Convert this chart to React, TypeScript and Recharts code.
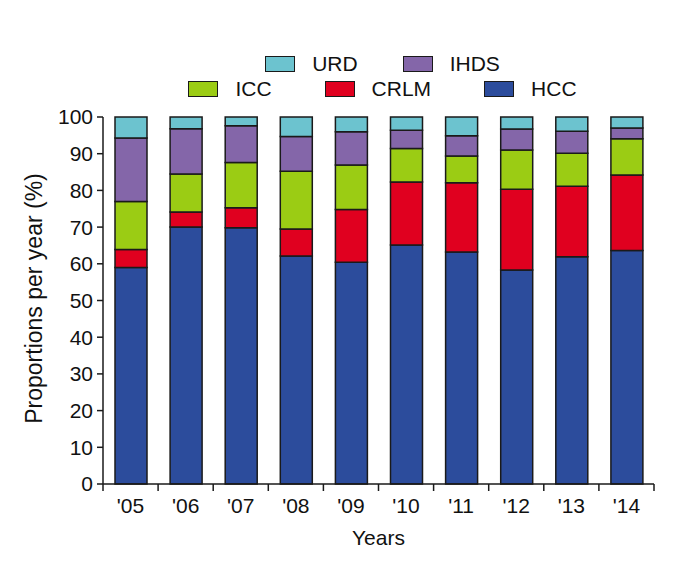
import { BarChart, Bar, XAxis, YAxis } from 'recharts';

const years = ["'05", "'06", "'07", "'08", "'09", "'10", "'11", "'12", "'13", "'14"];
const hcc = [59.0, 70.0, 69.8, 62.1, 60.4, 65.1, 63.2, 58.3, 61.9, 63.6];
const crlm = [4.9, 4.1, 5.5, 7.4, 14.4, 17.2, 18.9, 22.0, 19.2, 20.6];
const icc = [13.1, 10.4, 12.3, 15.7, 12.1, 9.1, 7.3, 10.7, 9.0, 9.9];
const ihds = [17.3, 12.3, 10.0, 9.5, 9.1, 5.0, 5.5, 5.7, 6.0, 2.9];
const urd = [5.7, 3.2, 2.4, 5.3, 4.0, 3.6, 5.1, 3.3, 3.9, 3.0];
const yTicks = [0, 10, 20, 30, 40, 50, 60, 70, 80, 90, 100];

const COLORS = {
  URD: "#6cc3cf",
  IHDS: "#8466a9",
  ICC: "#9bcc14",
  CRLM: "#e0001f",
  HCC: "#2c4c9c",
};
const EDGE = "#1a1a1a";
const FONT = "'Liberation Sans', Arial, Helvetica, sans-serif";

const data = years.map((year, i) => ({
  year,
  HCC: hcc[i],
  CRLM: crlm[i],
  ICC: icc[i],
  IHDS: ihds[i],
  URD: urd[i],
}));

const BAND = 551 / years.length;

// ticks sit between categories, label in the middle
const XTick = (props: any) => {
  const { x, y, payload, index } = props;
  const half = BAND / 2;
  const base = y - 8; // axis line
  return (
    <g>
      <line x1={x - half} x2={x - half} y1={base} y2={base + 7} stroke={EDGE} strokeWidth={1.5} />
      {index === years.length - 1 && (
        <line x1={x + half} x2={x + half} y1={base} y2={base + 7} stroke={EDGE} strokeWidth={1.5} />
      )}
      <text x={x} y={base + 29} textAnchor="middle" fontSize={21} fill="#111" fontFamily={FONT}>
        {payload.value}
      </text>
    </g>
  );
};

const legendRows = [["URD", "IHDS"], ["ICC", "CRLM", "HCC"]];
const rowGaps = [45, 53];

function ChartLegend() {
  return (
    <div
      style={{
        position: 'absolute',
        top: 51,
        left: 107,
        width: 551,
        fontFamily: FONT,
        fontSize: 21,
        color: '#111',
      }}
    >
      {legendRows.map((row, r) => (
        <div key={r} style={{ display: 'flex', justifyContent: 'center', gap: rowGaps[r], height: 25.5, alignItems: 'center' }}>
          {row.map((name) => (
            <div key={name} style={{ display: 'flex', alignItems: 'center', gap: 17 }}>
              <div
                style={{
                  width: 28,
                  height: 14,
                  background: (COLORS as any)[name],
                  border: `1.5px solid ${EDGE}`,
                }}
              />
              <span>{name}</span>
            </div>
          ))}
        </div>
      ))}
    </div>
  );
}

export default function App() {
  return (
    <div style={{ position: 'absolute', left: 0, top: 0, width: 690, height: 563, background: '#fff' }}>
      <ChartLegend />
      <BarChart
        width={690}
        height={563}
        data={data}
        margin={{ top: 117, right: 36, bottom: 39, left: 13 }}
        barSize={32}
      >
        <XAxis
          dataKey="year"
          tickLine={false}
          axisLine={{ stroke: EDGE, strokeWidth: 1.5 }}
          tick={<XTick />}
          height={40}
          interval={0}
          label={{
            content: (p: any) => {
              const vb = p.viewBox;
              return (
                <text x={vb.x + vb.width / 2} y={545} textAnchor="middle" fontSize={21} fill="#111" fontFamily={FONT}>
                  Years
                </text>
              );
            },
          }}
        />
        <YAxis
          domain={[0, 100]}
          ticks={yTicks}
          interval={0}
          width={90}
          tickSize={6}
          tickMargin={4}
          axisLine={{ stroke: EDGE, strokeWidth: 1.5 }}
          tickLine={{ stroke: EDGE, strokeWidth: 1.5 }}
          tick={{ fontSize: 21, fill: '#111', fontFamily: FONT }}
          label={{
            content: (p: any) => {
              const vb = p.viewBox;
              const cx = 34;
              const cy = vb.y + vb.height / 2 - 2;
              return (
                <text
                  x={cx}
                  y={cy}
                  transform={`rotate(-90 ${cx} ${cy})`}
                  textAnchor="middle"
                  dominantBaseline="central"
                  fontSize={23}
                  fill="#111"
                  fontFamily={FONT}
                >
                  Proportions per year (%)
                </text>
              );
            },
          }}
        />
        <Bar dataKey="HCC" stackId="a" fill={COLORS.HCC} stroke={EDGE} strokeWidth={1.5} isAnimationActive={false} />
        <Bar dataKey="CRLM" stackId="a" fill={COLORS.CRLM} stroke={EDGE} strokeWidth={1.5} isAnimationActive={false} />
        <Bar dataKey="ICC" stackId="a" fill={COLORS.ICC} stroke={EDGE} strokeWidth={1.5} isAnimationActive={false} />
        <Bar dataKey="IHDS" stackId="a" fill={COLORS.IHDS} stroke={EDGE} strokeWidth={1.5} isAnimationActive={false} />
        <Bar dataKey="URD" stackId="a" fill={COLORS.URD} stroke={EDGE} strokeWidth={1.5} isAnimationActive={false} />
      </BarChart>
    </div>
  );
}
